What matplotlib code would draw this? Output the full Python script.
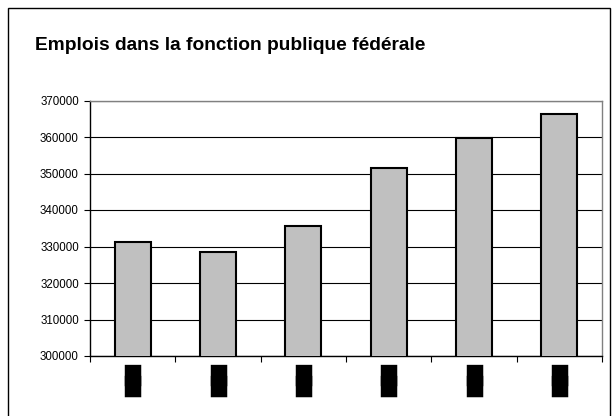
import matplotlib
matplotlib.use("Agg")
import matplotlib.pyplot as plt
from matplotlib.patches import Rectangle

# data (x labels are blacked out in the source)
categories = ["█\n█"] * 6
emplois = [331200, 328500, 335700, 351500, 359700, 366300]
y_ticks = [300000, 310000, 320000, 330000, 340000, 350000, 360000, 370000]

W, H = 612, 416
fig = plt.figure(figsize=(W / 100, H / 100), dpi=100)

# outer frame of the chart object
fig.patches.append(Rectangle((8 / W, -0.01), (W - 10) / W, (H - 8) / H + 0.01,
                             transform=fig.transFigure, fill=False,
                             edgecolor="black", linewidth=1.0))

fig.text(35 / W, 1 - 45 / H, "Emplois dans la fonction publique fédérale",
         fontfamily="Liberation Sans", fontweight="bold", fontsize=13.8,
         va="center", ha="left")

left, right, top, bottom = 90, 602, 100.5, 356
ax = fig.add_axes([left / W, 1 - bottom / H, (right - left) / W, (bottom - top) / H])

x = range(len(emplois))
ax.bar(x, emplois, width=0.42, color="#c0c0c0", edgecolor="black", linewidth=1.5, zorder=3)

ax.set_xlim(-0.5, len(emplois) - 0.5)
ax.set_ylim(300000, 370000)
ax.set_yticks(y_ticks)
ax.set_yticklabels([str(v) for v in y_ticks], fontfamily="Liberation Sans", fontsize=8.3)
ax.yaxis.grid(True, color="black", linewidth=0.8, zorder=0)

# category ticks sit on the boundaries, labels centred under the bars
ax.set_xticks([i - 0.5 for i in range(len(emplois) + 1)])
ax.set_xticklabels([])
ax.set_xticks(list(x), minor=True)
ax.set_xticklabels(categories, minor=True, fontfamily="DejaVu Sans", fontsize=15,
                   linespacing=0.36)
ax.tick_params(axis="x", which="major", length=4, width=0.8, direction="out")
ax.tick_params(axis="x", which="minor", length=0, pad=6)
ax.tick_params(axis="y", length=4, width=0.8, direction="out", pad=4)

for side in ["top", "right"]:
    ax.spines[side].set_color("#808080")
    ax.spines[side].set_linewidth(1.0)
for side in ["left", "bottom"]:
    ax.spines[side].set_color("black")
    ax.spines[side].set_linewidth(1.0)

fig.savefig("out.png", dpi=100)
